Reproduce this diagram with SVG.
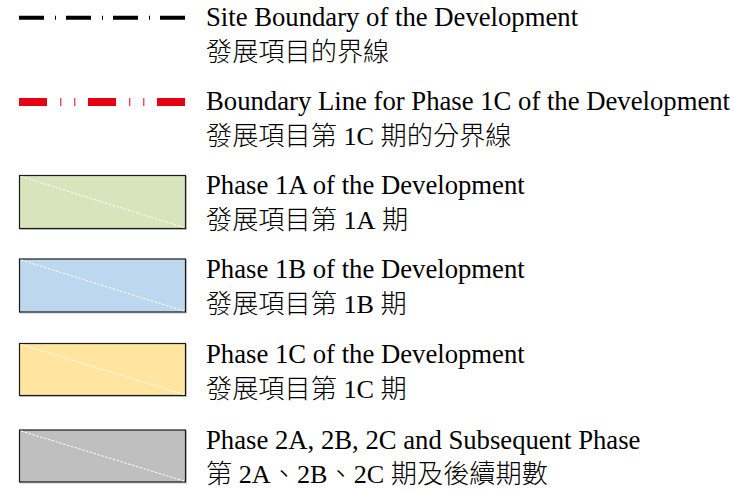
<svg xmlns="http://www.w3.org/2000/svg" width="734" height="491" viewBox="0 0 734 491">
<style>
  .t { font-family: "Liberation Serif", "Noto Sans CJK TC", serif; font-size: 26.7px; fill: #000; }
  .c { font-family: "Liberation Serif", "Noto Sans CJK TC", serif; font-size: 26.2px; font-weight: 300; fill: #000; }
  .box { stroke: #1a1a1a; stroke-width: 1.2; }
  .shadow { fill: none; stroke: #c8c8c8; stroke-width: 1; }
  .diag { stroke: #ffffff; stroke-width: 1; stroke-dasharray: 2.5 1.5; fill: none; }
</style>
<rect width="734" height="491" fill="#ffffff"/>

<g id="site-boundary">
  <line x1="19" y1="17.7" x2="186" y2="17.7" stroke="#000" stroke-width="4" stroke-dasharray="25 11 1 10"/>
  <text class="t" x="206" y="26">Site Boundary of the Development</text>
  <text class="c" x="206" y="61">發展項目的界線</text>
</g>

<g id="phase1c-boundary">
  <line x1="19" y1="102" x2="186" y2="102" stroke="#e60013" stroke-width="8" stroke-dasharray="28 13.3 1 13 1 12.7"/>
  <text class="t" x="206" y="110">Boundary Line for Phase 1C of the Development</text>
  <text class="c" x="206" y="145">發展項目第 <tspan style="font-weight:400">1C</tspan> 期的分界線</text>
</g>

<g id="phase1a">
  <rect class="shadow" x="20.5" y="176.5" width="166" height="53"/>
  <rect class="box" x="19.5" y="175.5" width="166" height="53" fill="#d7e4bc"/>
  <line class="diag" x1="21" y1="176.5" x2="184" y2="227.5"/>
  <text class="t" x="206" y="194">Phase 1A of the Development</text>
  <text class="c" x="206" y="229">發展項目第 <tspan style="font-weight:400">1A</tspan> 期</text>
</g>

<g id="phase1b">
  <rect class="shadow" x="20.5" y="260" width="166" height="53"/>
  <rect class="box" x="19.5" y="259" width="166" height="53" fill="#bdd7ee"/>
  <line class="diag" x1="21" y1="260" x2="184" y2="311"/>
  <text class="t" x="206" y="278">Phase 1B of the Development</text>
  <text class="c" x="206" y="313">發展項目第 <tspan style="font-weight:400">1B</tspan> 期</text>
</g>

<g id="phase1c">
  <rect class="shadow" x="20.5" y="344.5" width="166" height="52"/>
  <rect class="box" x="19.5" y="343.5" width="166" height="52" fill="#ffe59f"/>
  <line class="diag" x1="21" y1="344.5" x2="184" y2="394.5"/>
  <text class="t" x="206" y="363">Phase 1C of the Development</text>
  <text class="c" x="206" y="398">發展項目第 <tspan style="font-weight:400">1C</tspan> 期</text>
</g>

<g id="phase2">
  <rect class="shadow" x="20.5" y="431" width="166" height="52"/>
  <rect class="box" x="19.5" y="430" width="166" height="52" fill="#bfbfbf"/>
  <line class="diag" x1="21" y1="431" x2="184" y2="481"/>
  <text class="t" x="206" y="449">Phase 2A, 2B, 2C and Subsequent Phase</text>
  <text class="c" x="206" y="483">第 <tspan style="font-weight:400">2A</tspan>、<tspan style="font-weight:400">2B</tspan>、<tspan style="font-weight:400">2C</tspan> 期及後續期數</text>
</g>
</svg>
